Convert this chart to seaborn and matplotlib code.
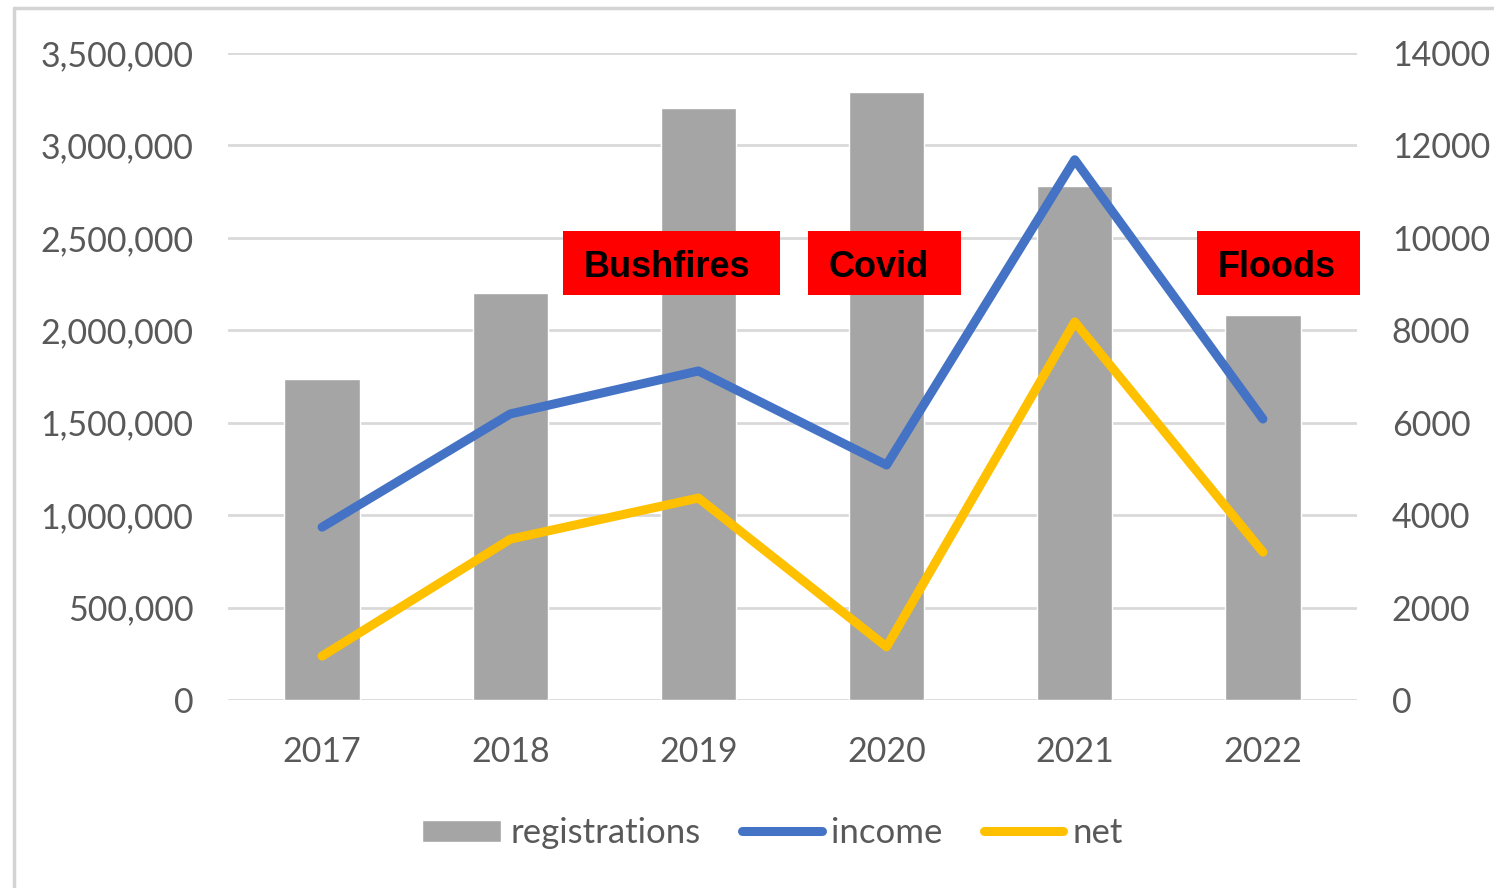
import numpy as np
import pandas as pd
import matplotlib
matplotlib.use("Agg")
import matplotlib.pyplot as plt
import seaborn as sns
from matplotlib.lines import Line2D
from matplotlib.patches import Rectangle
from matplotlib.ticker import FuncFormatter, MultipleLocator

# ---------------- data ----------------
years = ["2017", "2018", "2019", "2020", "2021", "2022"]
registrations = [1736000, 2202000, 3202000, 3289000, 2781000, 2083000]
income = [3740, 6190, 7120, 5085, 11690, 6080]
net = [950, 3480, 4370, 1150, 8180, 3200]
event_labels = ["Bushfires", "Covid", "Floods"]
series_names = ["registrations", "income", "net"]

# ---------------- style ----------------
W, H = 1494, 888
sns.set_theme(style="white")
plt.rcParams["font.family"] = ["Lato", "DejaVu Sans"]

BAR_C = "#A5A5A5"
BLUE = "#4472C4"
GOLD = "#FFC000"
GRID = "#D9D9D9"
TXT = "#595959"

df = pd.DataFrame({"year": years, "pos": np.arange(len(years)),
                   "registrations": registrations, "income": income, "net": net})

fig = plt.figure(figsize=(W / 100, H / 100), dpi=100)
ax = fig.add_axes([228 / W, 1 - 700 / H, (1357 - 228) / W, (700 - 53) / H])

sns.barplot(data=df, x="pos", y="registrations", color=BAR_C, width=0.40,
            saturation=1, ax=ax, label=series_names[0], zorder=2)
if ax.get_legend() is not None:
    ax.get_legend().remove()
ax.set_xlim(-0.5, len(years) - 0.5)
ax.set_ylim(0, 3500000)
ax.yaxis.set_major_locator(MultipleLocator(500000))
ax.yaxis.set_major_formatter(FuncFormatter(lambda v, p: f"{int(v):,}"))
ax.set_xticks(df["pos"])
ax.set_xticklabels(years)
ax.grid(axis="y", color=GRID, linewidth=2.0, zorder=0)
ax.grid(axis="x", visible=False)
ax.set_axisbelow(True)
for s in ax.spines.values():
    s.set_visible(False)
ax.set_xlabel("")
ax.set_ylabel("")
ax.tick_params(axis="both", length=0, labelsize=24.5, colors=TXT)
ax.tick_params(axis="y", pad=25)
ax.tick_params(axis="x", pad=26)

ax2 = ax.twinx()
line_kw = dict(linewidth=6.5, solid_capstyle="round", solid_joinstyle="round")
sns.lineplot(data=df, x="pos", y="income", color=BLUE, ax=ax2,
             label=series_names[1], legend=False, **line_kw)
sns.lineplot(data=df, x="pos", y="net", color=GOLD, ax=ax2,
             label=series_names[2], legend=False, **line_kw)
ax2.set_ylim(0, 14000)
ax2.yaxis.set_major_locator(MultipleLocator(2000))
ax2.yaxis.set_major_formatter(FuncFormatter(lambda v, p: f"{int(v)}"))
ax2.set_xlim(-0.5, len(years) - 0.5)
for s in ax2.spines.values():
    s.set_visible(False)
ax2.set_xlabel("")
ax2.set_ylabel("")
ax2.grid(False)
ax2.tick_params(axis="y", length=0, labelsize=24.5, colors=TXT, pad=25)

# legend
h1, l1 = ax.get_legend_handles_labels()
h2, l2 = ax2.get_legend_handles_labels()
leg = fig.legend(h1 + h2, l1 + l2, loc="center",
                 bbox_to_anchor=(772 / W, 1 - 833 / H), ncol=3, frameon=False,
                 fontsize=25, handlelength=2.3, handleheight=0.6,
                 handletextpad=0.25, columnspacing=1.2, labelcolor=TXT)

# event annotation boxes (figure pixel positions)
boxes = [(563, 780), (808, 961), (1197, 1360)]
for lab, (x0, x1) in zip(event_labels, boxes):
    fig.patches.append(Rectangle((x0 / W, 1 - 295 / H), (x1 - x0) / W, 64 / H,
                                 transform=fig.transFigure, facecolor="#FF0000",
                                 edgecolor="none", zorder=10))
    fig.text((x0 + 21) / W, 1 - 277 / H, lab, ha="left", va="baseline",
             fontsize=26, fontweight="bold", color="black",
             family=["Liberation Sans", "DejaVu Sans"], zorder=11)

# outer chart frame (cropped screenshot)
fig.lines.append(Line2D([14 / W, 14 / W], [1 - 8 / H, 0], transform=fig.transFigure,
                        color="#D4D4D4", linewidth=2.5))
fig.lines.append(Line2D([14 / W, 1], [1 - 8 / H, 1 - 8 / H], transform=fig.transFigure,
                        color="#D4D4D4", linewidth=2.5))

fig.savefig("out.png", dpi=100)
